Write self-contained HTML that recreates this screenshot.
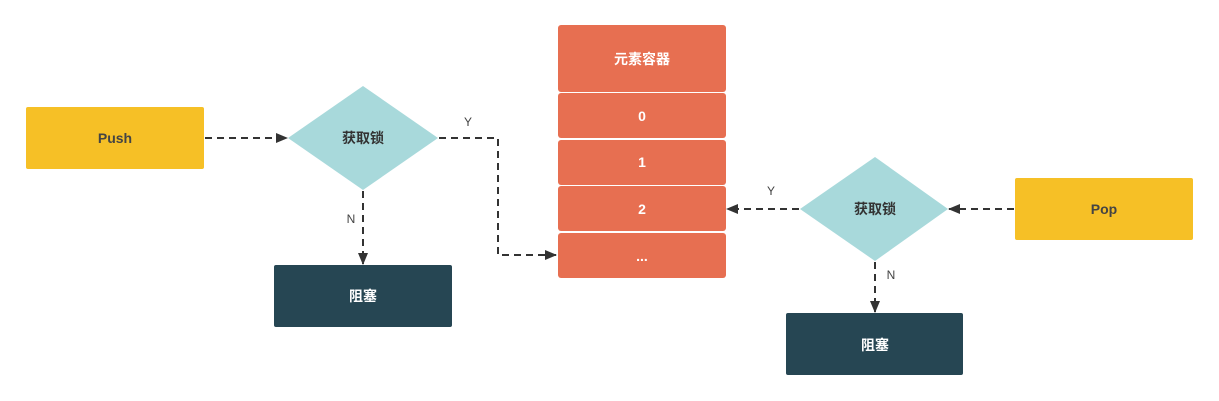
<!DOCTYPE html>
<html><head><meta charset="utf-8"><style>
html,body{margin:0;padding:0;background:#fff;width:1219px;height:401px;overflow:hidden}
text{font-family:"Liberation Sans","Noto Sans CJK SC",sans-serif}
</style></head><body>
<svg width="1219" height="401" viewBox="0 0 1219 401" xmlns="http://www.w3.org/2000/svg">
<defs><marker id="a" markerWidth="12" markerHeight="10" refX="11" refY="5" orient="auto" markerUnits="userSpaceOnUse"><path d="M0,0 L12,5 L0,10 Z" fill="#333"/></marker></defs>
<g fill="none" stroke="#333" stroke-width="2" stroke-dasharray="7,5">
<path d="M205,138 H287" marker-end="url(#a)"/>
<path d="M439,138 H498 V255 H556" marker-end="url(#a)"/>
<path d="M363,191 V264" marker-end="url(#a)"/>
<path d="M1014,209 H949" marker-end="url(#a)"/>
<path d="M799,209 H727" marker-end="url(#a)"/>
<path d="M875,262 V312" marker-end="url(#a)"/>
</g>
<rect x="26" y="107" width="178" height="62" rx="2" fill="#F6C026"/>
<text x="115" y="143" text-anchor="middle" font-size="14" font-weight="bold" fill="#444">Push</text>
<polygon points="363,86 438,138 363,190 288,138" fill="#A8D9DB"/>
<text x="363" y="143" text-anchor="middle" font-size="14" font-weight="bold" fill="#333">获取锁</text>
<text x="468" y="126" text-anchor="middle" font-size="12" fill="#444">Y</text>
<text x="351" y="223" text-anchor="middle" font-size="12" fill="#444">N</text>
<rect x="274" y="265" width="178" height="62" rx="2" fill="#264653"/>
<text x="363" y="301" text-anchor="middle" font-size="14" font-weight="bold" fill="#fff">阻塞</text>
<g fill="#E76F51">
<rect x="558" y="25" width="168" height="67" rx="3"/>
<rect x="558" y="93" width="168" height="45" rx="3"/>
<rect x="558" y="140" width="168" height="45" rx="3"/>
<rect x="558" y="186" width="168" height="45" rx="3"/>
<rect x="558" y="233" width="168" height="45" rx="3"/>
</g>
<g fill="#fff" font-size="14" font-weight="bold" text-anchor="middle">
<text x="642" y="64">元素容器</text>
<text x="642" y="121">0</text>
<text x="642" y="167">1</text>
<text x="642" y="214">2</text>
<text x="642" y="261">...</text>
</g>
<polygon points="875,157 948,209 875,261 800,209" fill="#A8D9DB"/>
<text x="875" y="214" text-anchor="middle" font-size="14" font-weight="bold" fill="#333">获取锁</text>
<text x="771" y="195" text-anchor="middle" font-size="12" fill="#444">Y</text>
<text x="891" y="279" text-anchor="middle" font-size="12" fill="#444">N</text>
<rect x="1015" y="178" width="178" height="62" rx="2" fill="#F6C026"/>
<text x="1104" y="214" text-anchor="middle" font-size="14" font-weight="bold" fill="#444">Pop</text>
<rect x="786" y="313" width="177" height="62" rx="2" fill="#264653"/>
<text x="875" y="350" text-anchor="middle" font-size="14" font-weight="bold" fill="#fff">阻塞</text>
</svg>
</body></html>
